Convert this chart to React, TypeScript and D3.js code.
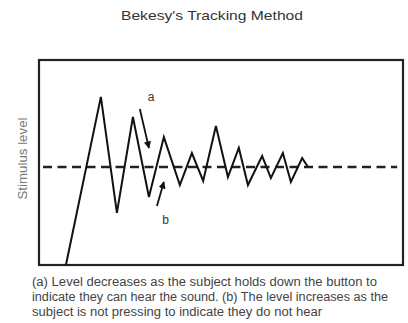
import React from "react";
import * as d3 from "d3";

const title = "Bekesy's Tracking Method";
const yLabel = "Stimulus level";
const captionLines = [
  "(a) Level decreases as the subject holds down the button to",
  "indicate they can hear the sound. (b) The level increases as the",
  "subject is not pressing to indicate they do not hear",
];
const times = [7.4, 17.0, 21.4, 25.8, 30.2, 34.3, 38.7, 42.0, 45.1, 48.6, 51.9, 54.9, 57.4, 61.3, 63.7, 67.0, 69.2, 72.3, 73.9];
const levels = [0, 82.0, 25.4, 72.2, 33.2, 62.4, 39.0, 54.6, 41.0, 67.8, 42.9, 57.1, 39.0, 53.2, 42.4, 54.6, 40.5, 52.2, 47.8];
const threshold = 47.8;
const thresholdSpan = [1.1, 98.4];
const arrowA = { from: [27.7, 76.1], to: [30.2, 57.1], label: "a", labelAt: [30.8, 81.5] };
const arrowB = { from: [32.4, 28.8], to: [34.3, 40.5], label: "b", labelAt: [34.8, 21.5] };

const W = 408, H = 323;
const box = { left: 39, right: 403, top: 60, bottom: 265 };

export default function App() {
  const x = d3.scaleLinear().domain([0, 100]).range([box.left, box.right]);
  const y = d3.scaleLinear().domain([0, 100]).range([box.bottom, box.top]);
  const line = d3.line<number>().x((_, i) => x(times[i])).y((d) => y(d));
  const arrows = [arrowA, arrowB];
  return (
    <svg width={W} height={H} style={{ position: "absolute", left: 0, top: 0, background: "#fff" }}
      fontFamily="'Liberation Sans', Arial, sans-serif">
      <defs>
        <marker id="ah" viewBox="0 0 10 10" refX="9" refY="5" markerWidth="4" markerHeight="4" orient="auto">
          <path d="M0,0 L10,5 L0,10 z" fill="#111" />
        </marker>
      </defs>
      <text x={212} y={20} textAnchor="middle" fontSize={13.5} fill="#333" textLength={182} lengthAdjust="spacingAndGlyphs">{title}</text>
      <rect x={box.left} y={box.top} width={box.right - box.left} height={box.bottom - box.top}
        fill="none" stroke="#222" strokeWidth={2.2} />
      <text transform={`translate(27,${(box.top + box.bottom) / 2 - 4}) rotate(-90)`} textAnchor="middle"
        fontSize={12} fill="#777" textLength={82} lengthAdjust="spacingAndGlyphs">{yLabel}</text>
      <line x1={x(thresholdSpan[0])} x2={x(thresholdSpan[1])} y1={y(threshold)} y2={y(threshold)}
        stroke="#222" strokeWidth={2.4} strokeDasharray="9,5.5" />
      <path d={line(levels) || ""} fill="none" stroke="#111" strokeWidth={2} strokeLinejoin="miter" />
      {arrows.map((a, i) => (
        <g key={i}>
          <line x1={x(a.from[0])} y1={y(a.from[1])} x2={x(a.to[0])} y2={y(a.to[1])}
            stroke="#111" strokeWidth={1.8} markerEnd="url(#ah)" />
          <text x={x(a.labelAt[0])} y={y(a.labelAt[1])} fontSize={12} fill="#333" textAnchor="middle"
            dominantBaseline="middle">{a.label}</text>
        </g>
      ))}
      {captionLines.map((t, i) => (
        <text key={i} x={32} y={286 + i * 15} fontSize={12} fill="#444"
          textLength={[345, 356, 290][i]} lengthAdjust="spacingAndGlyphs">{t}</text>
      ))}
    </svg>
  );
}
